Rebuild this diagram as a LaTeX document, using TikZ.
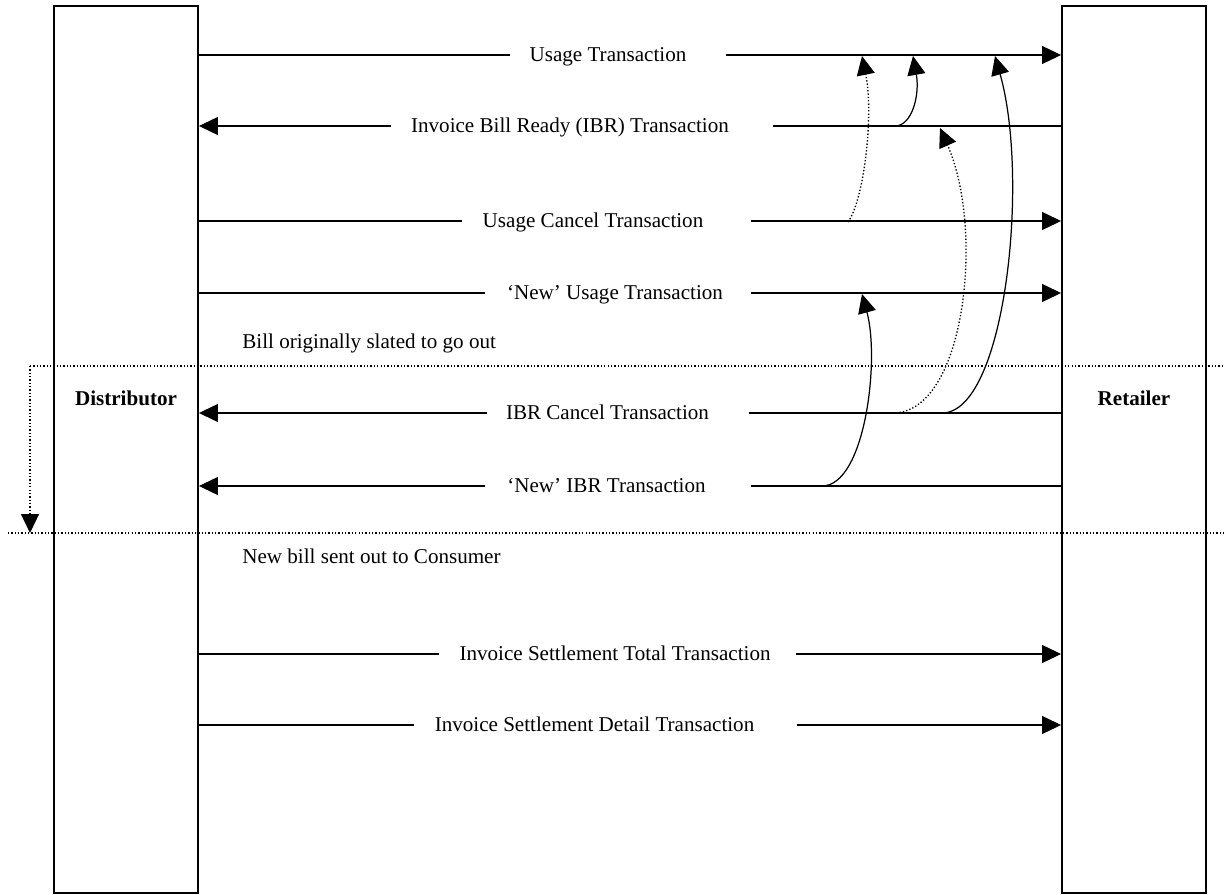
\documentclass[tikz,border=0pt]{standalone}
\usepackage{fontspec}
\setmainfont{Liberation Serif}
\usetikzlibrary{arrows.meta}

\begin{document}
\begin{tikzpicture}[x=0.02cm,y=-0.02cm,>={Triangle[length=0.38cm,width=0.36cm]},
  party/.style={draw,line width=1.1pt,minimum width=2.88cm,minimum height=17.74cm,inner sep=0pt},
  msg/.style={line width=0.7pt},
  lbl/.style={inner sep=0pt,text height=7.94pt,text depth=0pt,font=\fontsize{12}{14}\selectfont},
  who/.style={lbl,font=\fontsize{12}{14}\selectfont\bfseries},
  cut/.style={line width=0.75pt,dash pattern=on 0.75pt off 1.15pt}]
 \useasboundingbox (0,0) rectangle (1225,895);
 % the two parties
 \node[party] (dist) at (126,449.5) {};
 \node[party] (ret) at (1134,449.5) {};
 \node[who] (distname) at (126,398.3) {Distributor};
 \node[who] (retname) at (1134,398.3) {Retailer};
 % billing window
 \coordinate (wtop) at (30,366);
 \coordinate (wbot) at (30,533);
 \draw[cut] (wtop) -- (1225,366);
 \draw[cut] (8,533) -- (1225,533);
 \draw[cut,->] (wtop) -- (wbot);
 \node[lbl,anchor=west] (orig) at (242,341.5) {Bill originally slated to go out};
 \node[lbl,anchor=west] (sent) at (242,556.5) {New bill sent out to Consumer};
 % transactions
 \node[lbl] (ut) at (608,55) {Usage Transaction};
 \draw[msg] (dist.east |- ut) -- ([xshift=-0.38cm]ut.west);
 \draw[msg,->] ([xshift=0.78cm]ut.east) -- (ret.west |- ut);
 \node[lbl] (ibr) at (570,126) {Invoice Bill Ready (IBR) Transaction};
 \draw[msg,->] ([xshift=-0.4cm]ibr.west) -- (dist.east |- ibr);
 \draw[msg] (ret.west |- ibr) -- ([xshift=0.88cm]ibr.east);
 \node[lbl] (uc) at (593,221) {Usage Cancel Transaction};
 \draw[msg] (dist.east |- uc) -- ([xshift=-0.4cm]uc.west);
 \draw[msg,->] ([xshift=0.94cm]uc.east) -- (ret.west |- uc);
 \node[lbl] (nu) at (615,293) {`New' Usage Transaction};
 \draw[msg] (dist.east |- nu) -- ([xshift=-0.44cm]nu.west);
 \draw[msg,->] ([xshift=0.56cm]nu.east) -- (ret.west |- nu);
 \node[lbl] (ic) at (607.5,413) {IBR Cancel Transaction};
 \draw[msg,->] ([xshift=-0.38cm]ic.west) -- (dist.east |- ic);
 \draw[msg] (ret.west |- ic) -- ([xshift=0.8cm]ic.east);
 \node[lbl] (ni) at (606.5,486) {`New' IBR Transaction};
 \draw[msg,->] ([xshift=-0.44cm]ni.west) -- (dist.east |- ni);
 \draw[msg] (ret.west |- ni) -- ([xshift=0.9cm]ni.east);
 \node[lbl] (ist) at (615,654) {Invoice Settlement Total Transaction};
 \draw[msg] (dist.east |- ist) -- ([xshift=-0.4cm]ist.west);
 \draw[msg,->] ([xshift=0.5cm]ist.east) -- (ret.west |- ist);
 \node[lbl] (isd) at (594.5,725) {Invoice Settlement Detail Transaction};
 \draw[msg] (dist.east |- isd) -- ([xshift=-0.4cm]isd.west);
 \draw[msg,->] ([xshift=0.84cm]isd.east) -- (ret.west |- isd);
 % links between transactions
 \coordinate (ibrout) at (895,126);  \coordinate (utin) at (913,56);
 \coordinate (ucout) at (848,222);   \coordinate (utin2) at (862,56);
 \coordinate (icout) at (893,413);   \coordinate (ibrin) at (940,128);
 \coordinate (icout2) at (942,413);  \coordinate (utin3) at (995,56);
 \coordinate (niout) at (822,486);   \coordinate (nuin) at (862,294);
 \draw[msg,->] (ibrout) .. controls (912,126) and (920,95) .. (utin);
 \draw[cut,->] (ucout) .. controls (864,200) and (874,115) .. (utin2);
 \draw[cut,->] (icout) .. controls (965,413) and (985,230) .. (ibrin);
 \draw[msg,->] (icout2) .. controls (1005,413) and (1030,180) .. (utin3);
 \draw[msg,->] (niout) .. controls (865,486) and (880,360) .. (nuin);
\end{tikzpicture}
\end{document}
